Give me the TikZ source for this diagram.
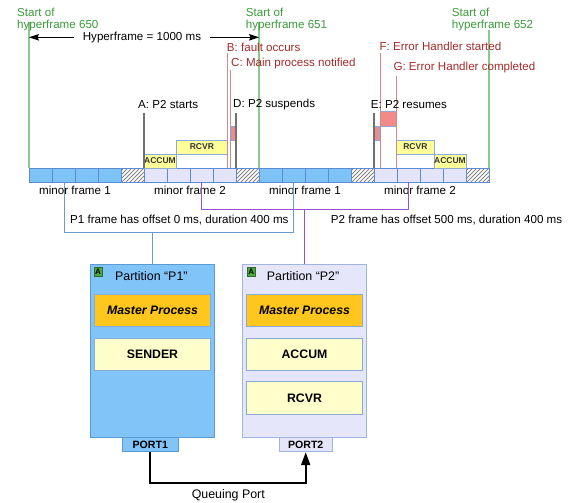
\documentclass[tikz,border=0pt]{standalone}
\usepackage{fontspec}
\setmainfont{Liberation Sans}
\usetikzlibrary{arrows.meta,calc}

\definecolor{hftext}{HTML}{3A9A3A}
\definecolor{hfline}{HTML}{8CC88C}
\definecolor{evred}{HTML}{A32A2A}
\definecolor{evline}{HTML}{D08A8A}
\definecolor{evgray}{HTML}{707070}
\definecolor{cellblue}{HTML}{7EC3F6}
\definecolor{celllav}{HTML}{E4E4FA}
\definecolor{cellbord}{HTML}{5B8BD4}
\definecolor{hatchgray}{HTML}{858585}
\definecolor{taskyel}{HTML}{FFFF99}
\definecolor{taskbord}{HTML}{8EAADB}
\definecolor{errpink}{HTML}{F28A8A}
\definecolor{mastergold}{HTML}{FFC61E}
\definecolor{cream}{HTML}{FFFFCC}
\definecolor{boxbord}{HTML}{8AAAD8}
\definecolor{pblue}{HTML}{80C4F8}
\definecolor{pblueb}{HTML}{5B9BD5}
\definecolor{plav}{HTML}{E6E6FA}
\definecolor{plavb}{HTML}{A0B4E0}
\definecolor{p1line}{HTML}{6A9BD0}
\definecolor{p2line}{HTML}{9A52CC}
\definecolor{badgegreen}{HTML}{4DAA3F}
\definecolor{badgeedge}{HTML}{2E6B2E}

\begin{document}
\begin{tikzpicture}[x=1pt,y=-1pt,
  lbl/.style={font=\fontsize{11.6}{11.6}\selectfont, inner sep=0pt},
  hflbl/.style={lbl, text=hftext, align=left, anchor=north west},
  evlbl/.style={lbl, text=evred, anchor=west},
  stlbl/.style={lbl, anchor=west},
  hfmark/.style={hfline, line width=1.1pt},
  evmark/.style={evline, line width=1pt},
  grmark/.style={evgray, line width=1.1pt},
  cell/.style={draw=cellbord, line width=0.8pt},
  hatchline/.style={hatchgray, line width=0.8pt},
  taskbox/.style={draw=taskbord, fill=taskyel, line width=0.8pt, inner sep=0pt,
    font=\fontsize{8.5}{9}\selectfont\bfseries, text=black!80},
  errbox/.style={draw=taskbord, fill=errpink, line width=0.6pt},
  harrow/.style={line width=0.9pt, -{Stealth[length=10pt,width=6.5pt,inset=1.5pt]}},
  partbox/.style={line width=1pt, minimum width=124.4pt, minimum height=173.4pt, inner sep=0pt},
  procbox/.style={draw=boxbord, line width=1pt, minimum width=115.6pt, minimum height=32.5pt,
    inner sep=0pt, font=\fontsize{12.3}{13}\selectfont\bfseries},
  portbox/.style={line width=1pt, minimum height=14pt, inner sep=0pt,
    font=\fontsize{10.6}{11}\selectfont\bfseries},
  badge/.style={draw=badgeedge, fill=badgegreen, line width=0.6pt, minimum width=8pt,
    minimum height=9pt, inner sep=0pt, font=\fontsize{8}{8}\selectfont\bfseries},
  bracket/.style={line width=1pt},
  qline/.style={line width=2pt, -{Triangle[length=13pt,width=9pt]}}
]
\path[use as bounding box] (0,0) rectangle (568,503);

% hyperframe boundaries
\coordinate (hf650) at (29,168);
\coordinate (hf651) at (259,168);
\coordinate (hf652) at (489,168);
\draw[hfmark] (hf650) -- (29,22);
\draw[hfmark] (hf651) -- (259,22);
\draw[hfmark] (hf652) -- (489,30);
\node[hflbl] (t650) at (17,8.4) {Start of\\hyperframe 650};
\node[hflbl] (t651) at (245.7,8.4) {Start of\\hyperframe 651};
\node[hflbl] (t652) at (451.7,8.4) {Start of\\hyperframe 652};

% hyperframe length
\node[lbl, inner xsep=9pt] (hyp) at (142,37.3) {Hyperframe = 1000 ms};
\draw[harrow] (hyp.west) -- (hyp.west -| hf650);
\draw[harrow] (hyp.east) -- (hyp.east -| hf651);

% timeline: 20 slots of 100 ms
\foreach \s in {0,230} {
  \foreach \k in {0,1,2,3}
    \draw[cell, fill=cellblue] (29+\s+23*\k,168) rectangle ++(23,14);
  \foreach \k in {5,6,7,8}
    \draw[cell, fill=celllav] (29+\s+23*\k,168) rectangle ++(23,14);
  \foreach \k in {4,9} {
    \begin{scope}
      \clip (29+\s+23*\k,168) rectangle ++(23,14);
      \foreach \d in {-16,-12,...,24}
        \draw[hatchline] (29+\s+23*\k+\d,183) -- ++(16,-16);
    \end{scope}
    \draw[cell] (29+\s+23*\k,168) rectangle ++(23,14);
  }
}

% process executions
\node[taskbox, minimum width=32pt, minimum height=14pt] (acc1) at (160,161) {ACCUM};
\node[taskbox, minimum width=51.7pt, minimum height=14pt] (rcv1) at (201.85,147) {RCVR};
\node[taskbox, minimum width=37.3pt, minimum height=14pt] (rcv2) at (415.35,147) {RCVR};
\node[taskbox, minimum width=32pt, minimum height=14pt] (acc2) at (450,161) {ACCUM};
\draw[errbox] (231,126) rectangle (236,140.7);
\draw[errbox] (374,126) rectangle (379.6,140.7);
\draw[errbox] (380,111.7) rectangle (396.7,126);

% event markers
\draw[grmark] (144,113) -- (144,168);
\draw[grmark] (236,113) -- (236,168);
\draw[grmark] (374,113) -- (374,168);
\draw[evmark] (227.5,53) -- (227.5,168);
\draw[evmark] (230.5,70) -- (230.5,168);
\draw[evmark] (380,53) -- (380,168);
\draw[evmark] (396.7,76) -- (396.7,168);
\node[stlbl] (evA) at (138,105) {A: P2 starts};
\node[evlbl] (evB) at (226.7,47) {B: fault occurs};
\node[evlbl] (evC) at (231,64) {C: Main process notified};
\node[stlbl] (evD) at (233,105) {D: P2 suspends};
\node[stlbl] (evE) at (370.7,105) {E: P2 resumes};
\node[evlbl] (evF) at (379.3,46) {F: Error Handler started};
\node[evlbl] (evG) at (393.3,68) {G: Error Handler completed};

% minor frame captions
\node[lbl] (mf1a) at (75,190.5) {minor frame 1};
\node[lbl] (mf2a) at (190,190.5) {minor frame 2};
\node[lbl] (mf1b) at (305,190.5) {minor frame 1};
\node[lbl] (mf2b) at (420,190.5) {minor frame 2};

% partitions
\node[partbox, draw=pblueb, fill=pblue] (P1) at (152.2,351) {};
\node[partbox, draw=plavb, fill=plav] (P2) at (304.5,351) {};
\node[badge] (bg1) at (98,271.7) {A};
\node[badge] (bg2) at (251.2,271.7) {A};
\node[lbl, font=\fontsize{12.4}{13}\selectfont, anchor=west] (n1) at (115,275.7) {Partition “P1”};
\node[lbl, font=\fontsize{12.4}{13}\selectfont, anchor=west] (n2) at (266.7,275.7) {Partition “P2”};
\node[procbox, fill=mastergold, font=\fontsize{12.3}{13}\selectfont\bfseries\itshape] (m1) at (152.5,310.5) {Master Process};
\node[procbox, fill=cream] (snd) at (152.5,354.7) {SENDER};
\node[procbox, fill=mastergold, font=\fontsize{12.3}{13}\selectfont\bfseries\itshape] (m2) at (304.5,310.5) {Master Process};
\node[procbox, fill=cream] (acc) at (304.5,354.7) {ACCUM};
\node[procbox, fill=cream] (rcv) at (304.5,397.9) {RCVR};
\node[portbox, draw=pblueb, fill=pblue, minimum width=56pt] (port1) at (150.3,444.7) {PORT1};
\node[portbox, draw=plavb, fill=plav, minimum width=53.3pt] (port2) at (305.7,444.7) {PORT2};

% partition windows
\coordinate (b1l) at (64,182);
\coordinate (b1r) at (293.3,182);
\coordinate (b1y) at (0,232.3);
\draw[bracket, p1line] (b1l) -- (b1l |- b1y) -| (b1r);
\draw[bracket, p1line] (P1.north) -- (P1.north |- b1y);
\coordinate (b2l) at (201.7,182);
\coordinate (b2r) at (408.3,182);
\coordinate (b2y) at (0,209);
\draw[bracket, p2line] (b2l) -- (b2l |- b2y) -| (b2r);
\draw[bracket, p2line] (P2.north) -- (P2.north |- b2y);
\node[stlbl] (w1) at (70,220) {P1 frame has offset 0 ms, duration 400 ms};
\node[stlbl] (w2) at (330.7,220) {P2 frame has offset 500 ms, duration 400 ms};

% queuing port channel
\coordinate (qy) at (0,483.3);
\draw[qline] (port1.south) -- (port1.south |- qy) -| (port2.south);
\node[lbl, font=\fontsize{12.4}{13}\selectfont] (qp) at (228.3,495) {Queuing Port};
\end{tikzpicture}
\end{document}
